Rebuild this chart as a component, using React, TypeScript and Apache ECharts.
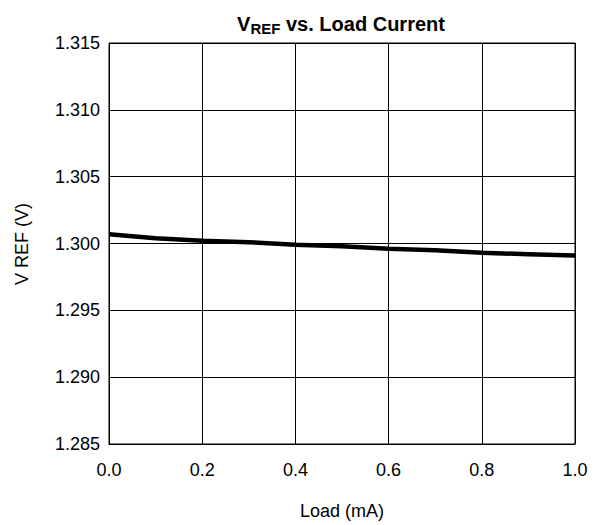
import React, { useEffect, useRef } from "react";
import * as echarts from "echarts";

const loadMA = [0.0, 0.1, 0.2, 0.3, 0.4, 0.5, 0.6, 0.7, 0.8, 0.9, 1.0];
const vref = [1.3007, 1.3004, 1.3002, 1.3001, 1.2999, 1.2998, 1.2996, 1.2995, 1.2993, 1.2992, 1.2991];
const xTicks = [0.0, 0.2, 0.4, 0.6, 0.8, 1.0];
const yTicks = [1.285, 1.29, 1.295, 1.3, 1.305, 1.31, 1.315];

const FONT = "Liberation Sans, Arial, Helvetica, sans-serif";

export default function App() {
  const ref = useRef<HTMLDivElement>(null);
  useEffect(() => {
    document.body.style.margin = "0";
    if (!ref.current) return;
    const chart = echarts.init(ref.current, undefined, { renderer: "svg" });
    chart.setOption({
      animation: false,
      backgroundColor: "#ffffff",
      textStyle: { fontFamily: FONT },
      title: {
        text: "{v|V}{sub|REF}{v| vs. Load Current}",
        left: 336,
        textAlign: "center",
        top: 7,
        textStyle: {
          rich: {
            v: { fontSize: 20, fontWeight: "bold", color: "#000", fontFamily: FONT, lineHeight: 24 },
            sub: { fontSize: 15, fontWeight: "bold", color: "#000", fontFamily: FONT, lineHeight: 14, verticalAlign: "bottom" },
          },
        },
      },
      graphic: [
        {
          type: "text",
          x: 22,
          y: 244,
          rotation: Math.PI / 2,
          style: {
            text: "V REF (V)",
            fontSize: 18,
            fontFamily: FONT,
            fill: "#000",
            textAlign: "center",
            textVerticalAlign: "middle",
          },
        },
      ],
      grid: {
        left: 109,
        right: 22,
        top: 43,
        bottom: 79,
        show: true,
        borderColor: "#000",
        borderWidth: 1,
        containLabel: false,
      },
      xAxis: {
        type: "value",
        min: xTicks[0],
        max: xTicks[xTicks.length - 1],
        interval: 0.2,
        name: "Load (mA)",
        nameLocation: "middle",
        nameGap: 58,
        nameTextStyle: { fontSize: 18, color: "#000", fontFamily: FONT },
        axisLine: { show: true, lineStyle: { color: "#000", width: 1 } },
        axisTick: { show: false },
        axisLabel: {
          fontSize: 18,
          color: "#000",
          margin: 17,
          fontFamily: FONT,
          formatter: (v: number) => v.toFixed(1),
        },
        splitLine: { show: true, lineStyle: { color: "#000", width: 1 } },
      },
      yAxis: {
        type: "value",
        min: yTicks[0],
        max: yTicks[yTicks.length - 1],
        interval: 0.005,
        axisLine: { show: true, lineStyle: { color: "#000", width: 1 } },
        axisTick: { show: false },
        axisLabel: {
          fontSize: 18,
          color: "#000",
          margin: 9,
          fontFamily: FONT,
          formatter: (v: number) => v.toFixed(3),
        },
        splitLine: { show: true, lineStyle: { color: "#000", width: 1 } },
      },
      series: [
        {
          type: "line",
          data: loadMA.map((x, i) => [x, vref[i]]),
          symbol: "none",
          lineStyle: { color: "#000", width: 4.5 },
        },
      ],
    });
    return () => chart.dispose();
  }, []);
  return <div ref={ref} style={{ width: 597, height: 525 }} />;
}
